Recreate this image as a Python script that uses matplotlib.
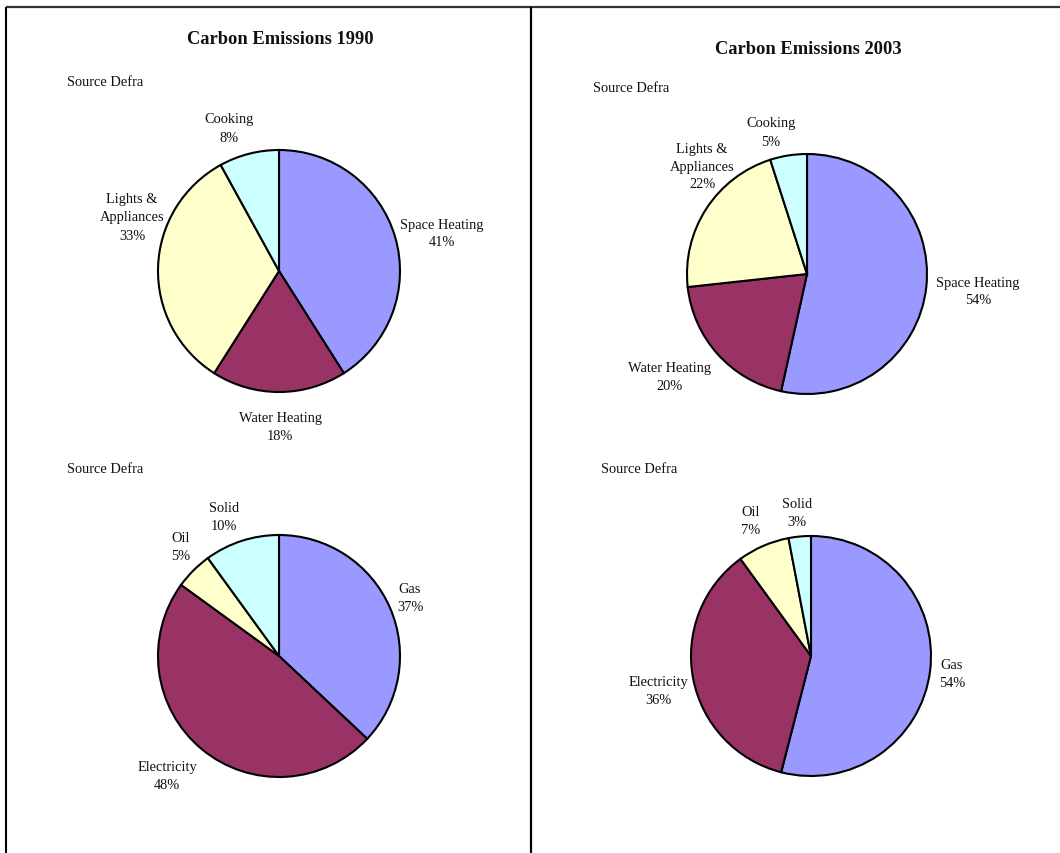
import matplotlib
matplotlib.use("Agg")
import matplotlib.pyplot as plt

# ---- data -------------------------------------------------------------
use_categories = ["Space Heating", "Water Heating", "Lights &\nAppliances", "Cooking"]
use_1990 = [41, 18, 33, 8]
use_2003 = [54, 20, 22, 5]

fuel_categories = ["Gas", "Electricity", "Oil", "Solid"]
fuel_1990 = [37, 48, 5, 10]
fuel_2003 = [54, 36, 7, 3]

titles = ["Carbon Emissions 1990", "Carbon Emissions 2003"]
source_note = "Source Defra"

slice_colors = ["#9999FF", "#993366", "#FFFFCC", "#CCFFFF"]

# ---- layout (pixels, origin at top-left of the page) ------------------
W, H = 1060, 854
pies = [
    # values, categories, centre, radius, label offsets from centre
    dict(values=use_1990, cats=use_categories, c=(279, 272), r=121,
         offs=[(163, -38), (1, 156), (-147, -54), (-50, -143)]),
    dict(values=use_2003, cats=use_categories, c=(807, 275), r=120,
         offs=[(171, 17), (-138, 103), (-105, -108), (-36, -142)]),
    dict(values=fuel_1990, cats=fuel_categories, c=(279, 657), r=121,
         offs=[(131, -58), (-112, 120), (-98, -110), (-55, -139)]),
    dict(values=fuel_2003, cats=fuel_categories, c=(811, 657), r=120,
         offs=[(141, 18), (-153, 35), (-60, -135), (-14, -143)]),
]
title_pos = [(280, 40), (808, 49)]
note_pos = [(67, 83), (593, 89), (67, 470), (601, 470)]

serif = ["Liberation Serif", "DejaVu Serif"]
label_size = 10.4
title_size = 13.3

fig = plt.figure(figsize=(W / 100, H / 100), dpi=100)
fig.patch.set_facecolor("white")
ax = fig.add_axes([0, 0, 1, 1])


def fy(y):
    """Convert a top-down pixel row to the axes' bottom-up y value."""
    return H - y


for p in pies:
    cx, cy = p["c"]
    ax.pie(p["values"], center=(cx, fy(cy)), radius=p["r"], startangle=90,
           counterclock=False, colors=slice_colors, normalize=True,
           wedgeprops=dict(edgecolor="black", linewidth=1.5))
    for cat, val, (dx, dy) in zip(p["cats"], p["values"], p["offs"]):
        ax.text(cx + dx, fy(cy + dy), f"{cat}\n{val}%", ha="center",
                va="center", multialignment="center", family=serif,
                fontsize=label_size, color="#111111", linespacing=1.5)

for t, (x, y) in zip(titles, title_pos):
    ax.text(x, fy(y), t, ha="center", va="center", family=serif,
            fontsize=title_size, fontweight="bold", color="#111111")

for x, y in note_pos:
    ax.text(x, fy(y), source_note, ha="left", va="center", family=serif,
            fontsize=label_size, color="#111111")

# panel frame
ax.plot([6, W], [fy(8), fy(8)], color="#333333", lw=1.6, solid_capstyle="butt")
ax.plot([6, 6], [fy(8), fy(H)], color="black", lw=1.5, solid_capstyle="butt")
ax.plot([531, 531], [fy(8), fy(H)], color="black", lw=1.6, solid_capstyle="butt")

ax.set_xlim(0, W)
ax.set_ylim(0, H)
ax.set_aspect("equal")
ax.axis("off")

fig.savefig("out.png", dpi=100, facecolor="white")
